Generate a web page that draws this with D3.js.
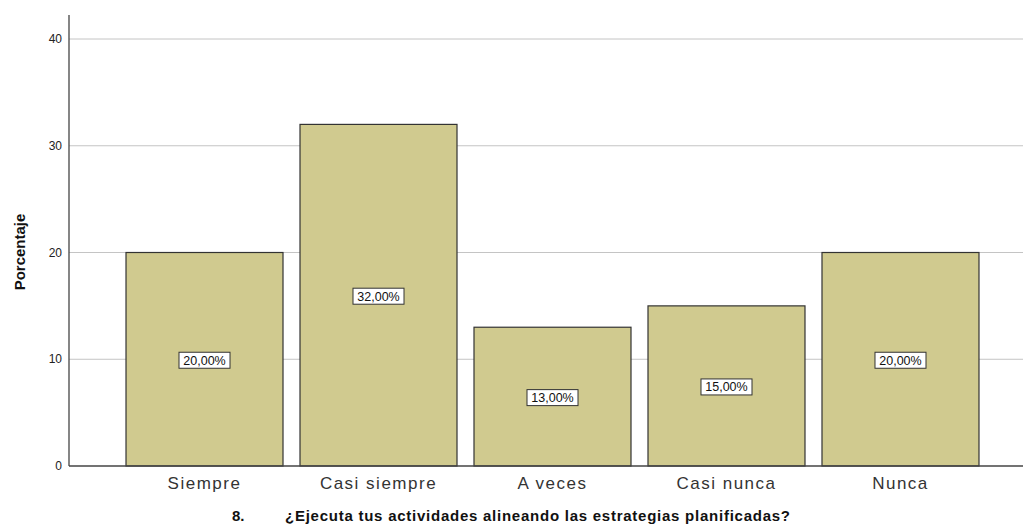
<!DOCTYPE html>
<html>
<head>
<meta charset="utf-8">
<script src="https://cdn.jsdelivr.net/npm/d3@7"></script>
<style>
  body { margin: 0; background: #fff; }
  svg { display: block; font-family: "Liberation Sans", Arial, sans-serif; }
</style>
</head>
<body>
<svg id="chart" width="1023" height="524"></svg>
<script>
// Response categories and their percentages
const categories = ["Siempre", "Casi siempre", "A veces", "Casi nunca", "Nunca"];
const percentages = [20, 32, 13, 15, 20];
const valueLabels = ["20,00%", "32,00%", "13,00%", "15,00%", "20,00%"];
const yTicks = [0, 10, 20, 30, 40];

const svg = d3.select("#chart");
const axisX = 69, baseY = 466, topY = 15, rightX = 1023;

const y = d3.scaleLinear().domain([0, 40]).range([baseY, 39]);
const x = d3.scaleBand().domain(categories).range([117.5, 987.5])
  .paddingInner(0.0977).paddingOuter(0.0489);

// gridlines
svg.append("g").selectAll("line").data(yTicks.filter(d => d > 0)).join("line")
  .attr("x1", axisX).attr("x2", rightX)
  .attr("y1", d => y(d)).attr("y2", d => y(d))
  .attr("stroke", "#c4c4c4").attr("stroke-width", 1);

// y tick labels
svg.append("g").selectAll("text").data(yTicks).join("text")
  .attr("x", 62).attr("y", d => y(d)).attr("dy", "0.35em")
  .attr("text-anchor", "end").attr("font-size", 12).attr("fill", "#222")
  .text(d => d);

// bars
svg.append("g").selectAll("rect").data(percentages).join("rect")
  .attr("x", (d, i) => x(categories[i]))
  .attr("y", d => y(d))
  .attr("width", x.bandwidth())
  .attr("height", d => baseY - y(d))
  .attr("fill", "#d0ca8f").attr("stroke", "#333").attr("stroke-width", 1.2);

// axes lines
svg.append("line").attr("x1", axisX).attr("x2", axisX).attr("y1", topY).attr("y2", baseY)
  .attr("stroke", "#444").attr("stroke-width", 1.3);
svg.append("line").attr("x1", axisX).attr("x2", rightX).attr("y1", baseY).attr("y2", baseY)
  .attr("stroke", "#444").attr("stroke-width", 1.3);

// value labels in boxes
const lab = svg.append("g").selectAll("g").data(percentages).join("g")
  .attr("transform", (d, i) => `translate(${x(categories[i]) + x.bandwidth() / 2},${y(d / 2) + 1})`);
lab.append("rect").attr("x", -25.5).attr("y", -8).attr("width", 51).attr("height", 16)
  .attr("fill", "#fff").attr("stroke", "#333").attr("stroke-width", 1);
lab.append("text").attr("text-anchor", "middle").attr("dy", "0.36em")
  .attr("font-size", 12.5).attr("fill", "#111")
  .text((d, i) => valueLabels[i]);

// category labels
svg.append("g").selectAll("text").data(categories).join("text")
  .attr("x", d => x(d) + x.bandwidth() / 2).attr("y", 489)
  .attr("text-anchor", "middle").attr("font-size", 17).attr("letter-spacing", 1.5)
  .attr("fill", "#333")
  .text(d => d);

// y axis title
svg.append("text").attr("transform", "translate(25,252) rotate(-90)")
  .attr("text-anchor", "middle").attr("font-size", 15).attr("font-weight", "bold")
  .attr("fill", "#111").text("Porcentaje");

// x axis title
svg.append("text").attr("x", 232).attr("y", 521).attr("font-size", 15)
  .attr("font-weight", "bold").attr("fill", "#111").text("8.");
svg.append("text").attr("x", 285).attr("y", 521).attr("font-size", 15)
  .attr("font-weight", "bold").attr("fill", "#111")
  .attr("textLength", 505).attr("lengthAdjust", "spacing")
  .text("¿Ejecuta tus actividades alineando las estrategias planificadas?");
</script>
</body>
</html>
